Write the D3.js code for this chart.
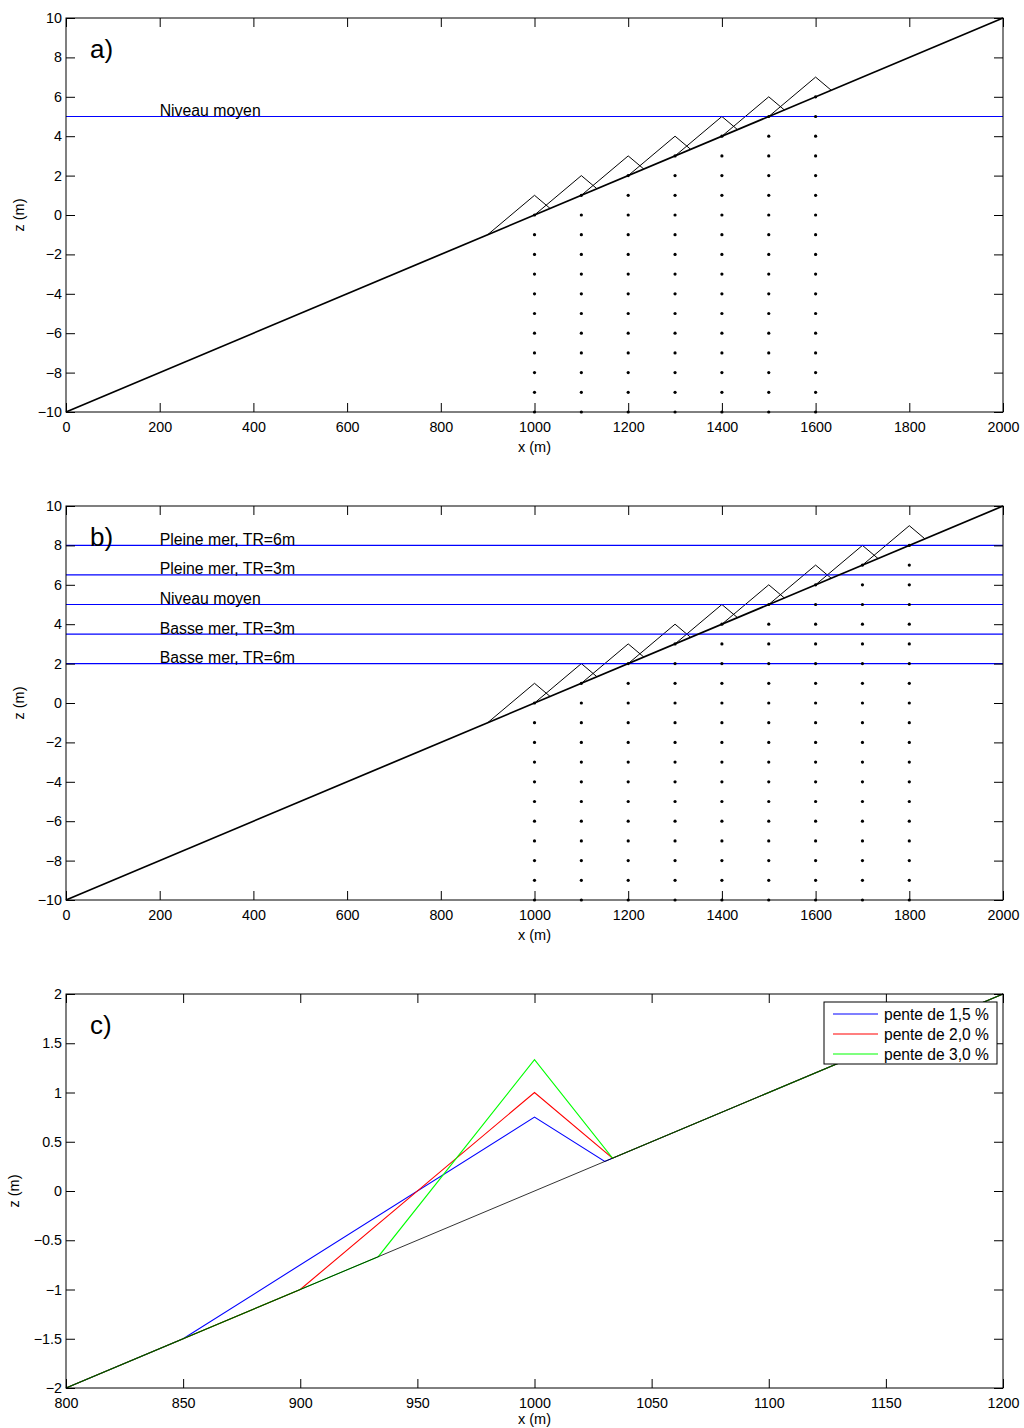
<!DOCTYPE html>
<html>
<head>
<meta charset="utf-8">
<script src="https://cdn.jsdelivr.net/npm/d3@7"></script>
<style>
  html, body { margin: 0; padding: 0; background: #fff; }
  svg { display: block; font-family: "Liberation Sans", Arial, Helvetica, sans-serif; }
  .tick text { font-size: 14px; fill: #000; }
</style>
</head>
<body>
<svg id="chart" width="1024" height="1428"></svg>
<script>
// ---------------- DATA ----------------
// Seabed profile (panels a, b)
const seabedX = [0, 2000];
const seabedZ = [-10, 10];

// Panel a : triangle vertices [x, z] of each bar
const barsA = [
  [[900, -1], [1000, 1], [1033.3, 0.333]],
  [[1000, 0], [1100, 2], [1133.3, 1.333]],
  [[1100, 1], [1200, 3], [1233.3, 2.333]],
  [[1200, 2], [1300, 4], [1333.3, 3.333]],
  [[1300, 3], [1400, 5], [1433.3, 4.333]],
  [[1400, 4], [1500, 6], [1533.3, 5.333]],
  [[1500, 5], [1600, 7], [1633.3, 6.333]]
];
// Panel b : bars
const barsB = [
  [[900, -1], [1000, 1], [1033.3, 0.333]],
  [[1000, 0], [1100, 2], [1133.3, 1.333]],
  [[1100, 1], [1200, 3], [1233.3, 2.333]],
  [[1200, 2], [1300, 4], [1333.3, 3.333]],
  [[1300, 3], [1400, 5], [1433.3, 4.333]],
  [[1400, 4], [1500, 6], [1533.3, 5.333]],
  [[1500, 5], [1600, 7], [1633.3, 6.333]],
  [[1600, 6], [1700, 8], [1733.3, 7.333]],
  [[1700, 7], [1800, 9], [1833.3, 8.333]]
];
// Sample point columns (x) and their top level (z), down to bottom
const dotColsA = [1000, 1100, 1200, 1300, 1400, 1500, 1600];
const dotTopA  = [0, 1, 2, 3, 4, 5, 6];
const dotColsB = [1000, 1100, 1200, 1300, 1400, 1500, 1600, 1700, 1800];
const dotTopB  = [0, 1, 2, 3, 4, 5, 6, 7, 8];
const dotBottom = -10;

// Water levels
const levelsA = [5];
const levelLabelsA = ["Niveau moyen"];
const levelsB = [8, 6.5, 5, 3.5, 2];
const levelLabelsB = ["Pleine mer, TR=6m", "Pleine mer, TR=3m", "Niveau moyen", "Basse mer, TR=3m", "Basse mer, TR=6m"];
const levelLabelX = 200;

// Panel c : bar profiles for three slopes
const seabedCX = [800, 1200];
const seabedCZ = [-2, 2];
const profileNames = ["pente de 1,5 %", "pente de 2,0 %", "pente de 3,0 %"];
const profileColors = ["#0000ff", "#ff0000", "#00ff00"];
const profilesX = [
  [800, 850, 1000, 1030, 1200],
  [800, 900, 1000, 1033.3, 1200],
  [800, 933.3, 1000, 1033.3, 1200]
];
const profilesZ = [
  [-2, -1.5, 0.75, 0.3, 2],
  [-2, -1, 1, 0.333, 2],
  [-2, -0.667, 1.333, 0.333, 2]
];

// Ticks
const xTicksAB = [0, 200, 400, 600, 800, 1000, 1200, 1400, 1600, 1800, 2000];
const zTicksAB = [-10, -8, -6, -4, -2, 0, 2, 4, 6, 8, 10];
const xTicksC = [800, 850, 900, 950, 1000, 1050, 1100, 1150, 1200];
const zTicksC = [-2, -1.5, -1, -0.5, 0, 0.5, 1, 1.5, 2];
const zTickLabelsC = ["\u22122", "\u22121.5", "\u22121", "\u22120.5", "0", "0.5", "1", "1.5", "2"];

// ---------------- DRAWING ----------------
const svg = d3.select("#chart");
const left = 66, right = 1003;
const panels = [
  { top: 18,  bottom: 412,  xd: [0, 2000], zd: [-10, 10], tag: "a)", xlab: 39.5 },
  { top: 506, bottom: 900,  xd: [0, 2000], zd: [-10, 10], tag: "b)", xlab: 39.5 },
  { top: 994, bottom: 1388, xd: [800, 1200], zd: [-2, 2], tag: "c)", xlab: 36 }
];

function makeAxes(g, x, y, p, xTicks, zTicks, zFmt, ylabX) {
  const tl = 9;
  const ax = g.append("g").attr("transform", `translate(0,${p.bottom})`)
    .call(d3.axisBottom(x).tickValues(xTicks).tickSizeInner(-tl).tickSizeOuter(0).tickPadding(10).tickFormat(d3.format("d")));
  const ay = g.append("g").attr("transform", `translate(${left},0)`)
    .call(d3.axisLeft(y).tickValues(zTicks).tickSizeInner(-tl).tickSizeOuter(0).tickPadding(4).tickFormat(zFmt));
  const at = g.append("g").attr("transform", `translate(0,${p.top})`)
    .call(d3.axisTop(x).tickValues(xTicks).tickSizeInner(-tl).tickSizeOuter(0).tickFormat(""));
  const ar = g.append("g").attr("transform", `translate(${right},0)`)
    .call(d3.axisRight(y).tickValues(zTicks).tickSizeInner(-tl).tickSizeOuter(0).tickFormat(""));
  [ax, ay, at, ar].forEach(a => {
    a.select(".domain").remove();
    a.selectAll(".tick line").attr("stroke", "#000").attr("stroke-width", 1);
    a.selectAll("text").style("font-size", "14.3px").attr("fill", "#000");
  });
  g.append("text").attr("x", (left + right) / 2).attr("y", p.bottom + p.xlab)
    .attr("text-anchor", "middle").style("font-size", "14.5px").text("x (m)");
  g.append("text").attr("transform", `translate(${ylabX},${(p.top + p.bottom) / 2}) rotate(-90)`)
    .attr("text-anchor", "middle").style("font-size", "14.5px").text("z (m)");
  g.append("text").attr("x", 90).attr("y", p.top + 40).style("font-size", "26px").text(p.tag);
}

function drawBox(g, p) {
  g.append("rect").attr("x", left).attr("y", p.top).attr("width", right - left).attr("height", p.bottom - p.top)
    .attr("fill", "none").attr("stroke", "#000").attr("stroke-width", 1);
}

function drawPanelAB(p, bars, cols, tops, levels, labels) {
  const g = svg.append("g");
  const x = d3.scaleLinear().domain(p.xd).range([left, right]);
  const y = d3.scaleLinear().domain(p.zd).range([p.bottom, p.top]);
  const plot = g.append("g");
  const line = d3.line().x(d => x(d[0])).y(d => y(d[1]));
  // sample points
  const pts = [];
  cols.forEach((cx, i) => { for (let z = tops[i]; z >= dotBottom; z--) pts.push([cx, z]); });
  // bars
  bars.forEach(b => plot.append("path").attr("d", line(b)).attr("fill", "none").attr("stroke", "#000").attr("stroke-width", 1));
  // water levels
  levels.forEach((lv, i) => {
    plot.append("line").attr("x1", left).attr("x2", right).attr("y1", y(lv)).attr("y2", y(lv))
      .attr("stroke", "#0000ff").attr("stroke-width", 1.2);
    plot.append("text").attr("x", x(levelLabelX)).attr("y", y(lv) - 0.5).style("font-size", "15.8px").text(labels[i]);
  });
  // seabed
  plot.append("path").attr("d", line(seabedX.map((v, i) => [v, seabedZ[i]])))
    .attr("fill", "none").attr("stroke", "#000").attr("stroke-width", 1.7);
  drawBox(g, p);
  plot.selectAll("circle.pt").data(pts).enter().append("circle")
    .attr("cx", d => x(d[0])).attr("cy", d => y(d[1])).attr("r", 1.6).attr("fill", "#000");
  makeAxes(g, x, y, p, xTicksAB, zTicksAB, d3.format("d"), 24);
}

drawPanelAB(panels[0], barsA, dotColsA, dotTopA, levelsA, levelLabelsA);
drawPanelAB(panels[1], barsB, dotColsB, dotTopB, levelsB, levelLabelsB);

// Panel c
(function () {
  const p = panels[2];
  const g = svg.append("g");
  const x = d3.scaleLinear().domain(p.xd).range([left, right]);
  const y = d3.scaleLinear().domain(p.zd).range([p.bottom, p.top]);
  const line = d3.line().x(d => x(d[0])).y(d => y(d[1]));
  profilesX.forEach((xs, i) => {
    g.append("path").attr("d", line(xs.map((v, j) => [v, profilesZ[i][j]])))
      .attr("fill", "none").attr("stroke", profileColors[i]).attr("stroke-width", 1.1);
  });
  g.append("path").attr("d", line(seabedCX.map((v, i) => [v, seabedCZ[i]])))
    .attr("fill", "none").attr("stroke", "#000").attr("stroke-width", 1).attr("stroke-opacity", 0.8);
  drawBox(g, p);
  makeAxes(g, x, y, p, xTicksC, zTicksC, (d, i) => zTickLabelsC[i], 19);
  // legend
  const lg = g.append("g");
  lg.append("rect").attr("x", 824).attr("y", 1002).attr("width", 173).attr("height", 62)
    .attr("fill", "#fff").attr("stroke", "#000").attr("stroke-width", 1);
  profileNames.forEach((n, i) => {
    const yy = 1014 + i * 20;
    lg.append("line").attr("x1", 833).attr("x2", 878).attr("y1", yy).attr("y2", yy)
      .attr("stroke", profileColors[i]).attr("stroke-width", 1.1);
    lg.append("text").attr("x", 884).attr("y", yy + 5.5).style("font-size", "15.6px").text(n);
  });
})();
</script>
</body>
</html>
